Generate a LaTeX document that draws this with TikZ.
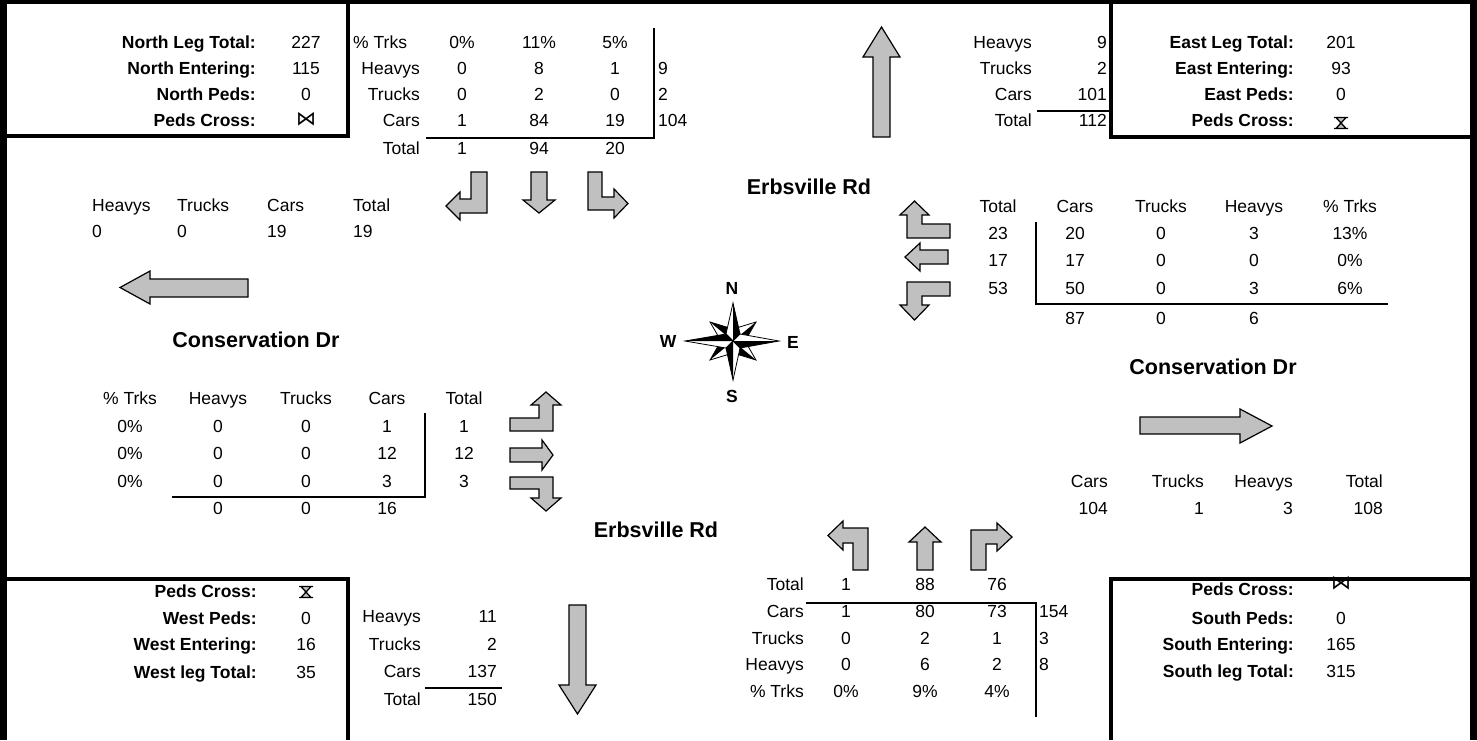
\documentclass[tikz,border=0pt]{standalone}
\usepackage{fontspec}
\setmainfont{Liberation Sans}
\newfontfamily\symfont{DejaVu Sans}
\definecolor{arrowgray}{RGB}{192,192,192}

\begin{document}
\begin{tikzpicture}[x=1pt, y=-1pt,
  every node/.style={inner sep=0pt, anchor=mid, font=\fontsize{17.5}{21}\selectfont},
  hd/.style={anchor=mid east, font=\fontsize{17.5}{21}\selectfont\bfseries},
  rt/.style={anchor=mid east},
  lt/.style={anchor=mid west},
  road/.style={font=\fontsize{21.5}{26}\selectfont\bfseries},
  pole/.style={font=\fontsize{17.5}{21}\selectfont\bfseries},
  sym/.style={font=\fontsize{20}{24}\symfont},
  rimline/.style={line width=7pt},
  boxline/.style={line width=4.5pt},
  tabline/.style={line width=2.5pt},
  flowarrow/.style={draw, fill=arrowgray, line width=1.2pt, line join=miter},
  hglass/.pic={
    \fill[arrowgray] (-5,-5) -- (5,-5) -- (0,0) -- cycle (-5,5) -- (5,5) -- (0,0) -- cycle;
    \draw[line width=1.3pt] (-7,-5.5) -- (7,-5.5) (-7,5.5) -- (7,5.5)
      (-5,-5.5) -- (5,5.5) (5,-5.5) -- (-5,5.5);
  }
]
\useasboundingbox (0,0) rectangle (1477,740);

% frame and the four corner boxes
\draw[rimline] (3.5,740) -- (3.5,0) -- (1473.5,0) -- (1473.5,740);
\draw[boxline] (3.5,136) -- (348,136) -- (348,0);
\draw[boxline] (1111,0) -- (1111,137) -- (1473.5,137);
\draw[boxline] (3.5,579) -- (348,579) -- (348,740);
\draw[boxline] (1111,740) -- (1111,579) -- (1473.5,579);

% north box
\foreach \lab/\val/\y [count=\i] in {North Leg Total:/227/46, North Entering:/115/72, North Peds:/0/98} {
  \node[hd] (nb-l\i) at (256,\y) {\lab};
  \node (nb-v\i) at (306,\y) {\val};
}
\node[hd] (nb-l4) at (256,124) {Peds Cross:};
\node[sym] (nb-v4) at (306,123) {⋈};

% north approach table
\node[lt] (nt-p) at (353,46) {\% Trks};
\foreach \lab/\y [count=\i] in {Heavys/72, Trucks/98, Cars/124, Total/152}
  \node[rt] (nt-l\i) at (420,\y) {\lab};
\foreach \a/\b/\c/\y [count=\i] in {0\%/11\%/5\%/46, 0/8/1/72, 0/2/0/98, 1/84/19/124, 1/94/20/152} {
  \node (nt-a\i) at (462,\y) {\a};
  \node (nt-b\i) at (539,\y) {\b};
  \node (nt-c\i) at (615,\y) {\c};
}
\foreach \v/\y [count=\i] in {9/72, 2/98, 104/124}
  \node[lt] (nt-s\i) at (658,\y) {\v};
\draw[tabline] (426,138) -- (654,138) -- (654,28);

% north movements
\draw[flowarrow] (471,172) -- (487,172) -- (487,213) -- (460,213) -- (460,220) -- (446,206) -- (460,192) -- (460,199) -- (471,199) -- cycle;
\draw[flowarrow] (531,172) -- (547,172) -- (547,200) -- (555,200) -- (539,213) -- (523,200) -- (531,200) -- cycle;
\draw[flowarrow] (588,172) -- (602,172) -- (602,197) -- (614,197) -- (614,189) -- (628,203.5) -- (614,218) -- (614,210) -- (588,210) -- cycle;

% north outbound
\draw[flowarrow] (873,137) -- (890,137) -- (890,57) -- (900,57) -- (881.5,27) -- (863,57) -- (873,57) -- cycle;
\foreach \lab/\val/\y [count=\i] in {Heavys/9/46, Trucks/2/72, Cars/101/98, Total/112/124} {
  \node[rt] (no-l\i) at (1032,\y) {\lab};
  \node[rt] (no-v\i) at (1107,\y) {\val};
}
\draw[tabline] (1037,111) -- (1111,111);

% east box
\foreach \lab/\val/\y [count=\i] in {East Leg Total:/201/46, East Entering:/93/72, East Peds:/0/98} {
  \node[hd] (eb-l\i) at (1294,\y) {\lab};
  \node (eb-v\i) at (1341,\y) {\val};
}
\node[hd] (eb-l4) at (1294,124) {Peds Cross:};
\pic (eb-v4) at (1341,123) {hglass};

\node[road] (rd-n) at (809,192) {Erbsville Rd};

% east approach
\draw[flowarrow] (950,224) -- (950,238) -- (907,238) -- (907,215) -- (900,215) -- (914.5,201) -- (929,215) -- (922,215) -- (922,224) -- cycle;
\draw[flowarrow] (948,250) -- (948,264) -- (920,264) -- (920,271) -- (905,257) -- (920,243) -- (920,250) -- cycle;
\draw[flowarrow] (950,282) -- (950,296) -- (922,296) -- (922,305) -- (929,305) -- (914.5,320) -- (900,305) -- (907,305) -- (907,282) -- cycle;
\foreach \lab/\x [count=\i] in {Total/998, Cars/1075, Trucks/1161, Heavys/1254, \% Trks/1350}
  \node (et-h\i) at (\x,210) {\lab};
\foreach \t/\c/\k/\h/\p/\y [count=\i] in {23/20/0/3/13\%/237, 17/17/0/0/0\%/264, 53/50/0/3/6\%/292} {
  \node (et-t\i) at (998,\y) {\t};
  \node (et-c\i) at (1075,\y) {\c};
  \node (et-k\i) at (1161,\y) {\k};
  \node (et-h\i) at (1254,\y) {\h};
  \node (et-p\i) at (1350,\y) {\p};
}
\node (et-sc) at (1075,322) {87};
\node (et-sk) at (1161,322) {0};
\node (et-sh) at (1254,322) {6};
\draw[tabline] (1036,222) -- (1036,304) -- (1388,304);

% east outbound
\node[road] (rd-e) at (1213,372) {Conservation Dr};
\draw[flowarrow] (1140,417) -- (1240,417) -- (1240,409) -- (1272,426) -- (1240,443) -- (1240,434) -- (1140,434) -- cycle;
\foreach \lab/\val/\x [count=\i] in {Cars/104/1108, Trucks/1/1204, Heavys/3/1293, Total/108/1383} {
  \node[rt] (eo-l\i) at (\x,485) {\lab};
  \node[rt] (eo-v\i) at (\x,512) {\val};
}

% west outbound
\foreach \lab/\val/\x [count=\i] in {Heavys/0/92, Trucks/0/177, Cars/19/267, Total/19/353} {
  \node[lt] (wo-l\i) at (\x,209) {\lab};
  \node[lt] (wo-v\i) at (\x,235) {\val};
}
\draw[flowarrow] (248,279) -- (248,297) -- (150,297) -- (150,304) -- (120,287.5) -- (150,271) -- (150,279) -- cycle;
\node[road] (rd-w) at (256,345) {Conservation Dr};

% compass
\begin{scope}[shift={(733,341)}, line width=0.8pt, line join=miter]
\foreach \tx/\ty/\ax/\ay/\bx/\by in {23/-19/12/0/0/-12, 23/19/0/12/12/0, -23/19/-12/0/0/12, -23/-19/0/-12/-12/0,
    0/-38/7/-7/-7/-7, 46/0/7/7/7/-7, 0/39/-7/7/7/7, -48/0/-7/-7/-7/7} {
  \fill[white] (0,0) -- (\tx,\ty) -- (\bx,\by) -- cycle;
  \fill[black] (0,0) -- (\ax,\ay) -- (\tx,\ty) -- cycle;
  \draw (0,0) -- (\ax,\ay) -- (\tx,\ty) -- (\bx,\by) -- cycle;
}
\end{scope}
\node[pole] (cN) at (732,292) {N};
\node[pole] (cS) at (732,400) {S};
\node[pole] (cW) at (668,345) {W};
\node[pole] (cE) at (793,346) {E};

% west approach
\foreach \lab/\x [count=\i] in {\% Trks/130, Heavys/218, Trucks/306, Cars/387, Total/464}
  \node (wt-h\i) at (\x,402) {\lab};
\foreach \y [count=\i] in {430, 457, 485} {
  \node (wt-p\i) at (130,\y) {0\%};
  \node (wt-h\i) at (218,\y) {0};
  \node (wt-k\i) at (306,\y) {0};
}
\foreach \v/\y [count=\i] in {1/430, 12/457, 3/485} {
  \node (wt-c\i) at (387,\y) {\v};
  \node (wt-t\i) at (464,\y) {\v};
}
\node (wt-sh) at (218,512) {0};
\node (wt-sk) at (306,512) {0};
\node (wt-sc) at (387,512) {16};
\draw[tabline] (172,497) -- (425,497) -- (425,413);
\draw[flowarrow] (510,418) -- (510,431) -- (553,431) -- (553,405) -- (561,405) -- (546,392) -- (531,405) -- (539,405) -- (539,418) -- cycle;
\draw[flowarrow] (510,448) -- (542,448) -- (542,440) -- (553,455) -- (542,470) -- (542,462) -- (510,462) -- cycle;
\draw[flowarrow] (510,477) -- (553,477) -- (553,498) -- (561,498) -- (546,511) -- (531,498) -- (539,498) -- (539,489) -- (510,489) -- cycle;

\node[road] (rd-s) at (656,535) {Erbsville Rd};

% west box
\node[hd] (wb-l1) at (257,595) {Peds Cross:};
\pic (wb-v1) at (306,592) {hglass};
\foreach \lab/\val/\y [count=\i from 2] in {West Peds:/0/622, West Entering:/16/648, West leg Total:/35/676} {
  \node[hd] (wb-l\i) at (257,\y) {\lab};
  \node (wb-v\i) at (306,\y) {\val};
}

% south outbound
\foreach \lab/\val/\y [count=\i] in {Heavys/11/620, Trucks/2/648, Cars/137/675, Total/150/703} {
  \node[rt] (so-l\i) at (421,\y) {\lab};
  \node[rt] (so-v\i) at (497,\y) {\val};
}
\draw[tabline] (425,688) -- (502,688);
\draw[flowarrow] (569,605) -- (586,605) -- (586,685) -- (596,685) -- (577.5,714) -- (559,685) -- (569,685) -- cycle;

% south approach
\draw[flowarrow] (853,570) -- (868,570) -- (868,528) -- (843,528) -- (843,521) -- (828,535.5) -- (843,550) -- (843,543) -- (853,543) -- cycle;
\draw[flowarrow] (917,570) -- (933,570) -- (933,542) -- (941,542) -- (925,527) -- (909,542) -- (917,542) -- cycle;
\draw[flowarrow] (971,570) -- (986,570) -- (986,544) -- (997,544) -- (997,551) -- (1012,537) -- (997,523) -- (997,530) -- (971,530) -- cycle;
\foreach \lab/\a/\b/\c/\y [count=\i] in {Total/1/88/76/588, Cars/1/80/73/615, Trucks/0/2/1/642, Heavys/0/6/2/668, \% Trks/0\%/9\%/4\%/695} {
  \node[rt] (st-l\i) at (804,\y) {\lab};
  \node (st-a\i) at (846,\y) {\a};
  \node (st-b\i) at (925,\y) {\b};
  \node (st-c\i) at (997,\y) {\c};
}
\foreach \v/\y [count=\i] in {154/615, 3/642, 8/668}
  \node[lt] (st-s\i) at (1039,\y) {\v};
\draw[tabline] (806,603) -- (1036,603) -- (1036,717);

% south box
\node[hd] (sb-l1) at (1294,593) {Peds Cross:};
\node[sym] (sb-v1) at (1341,587) {⋈};
\foreach \lab/\val/\y [count=\i from 2] in {South Peds:/0/622, South Entering:/165/648, South leg Total:/315/675} {
  \node[hd] (sb-l\i) at (1294,\y) {\lab};
  \node (sb-v\i) at (1341,\y) {\val};
}
\end{tikzpicture}
\end{document}
